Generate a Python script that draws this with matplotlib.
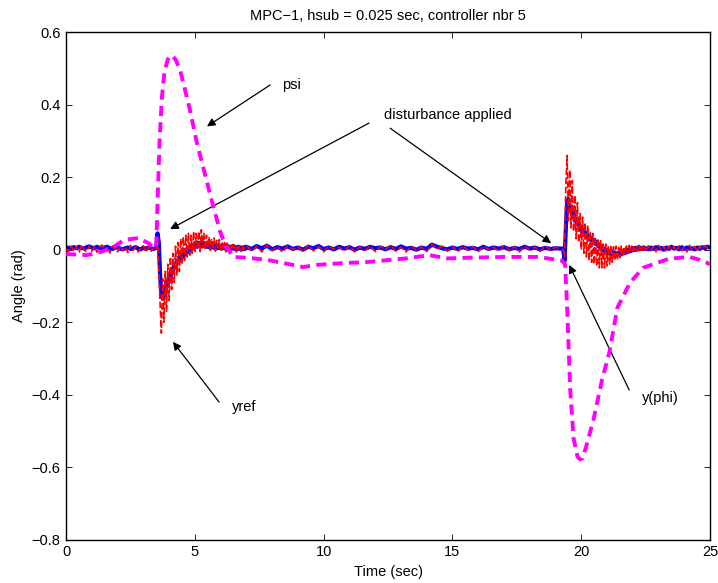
import numpy as np
import matplotlib
matplotlib.use("Agg")
import matplotlib.pyplot as plt

plt.rcParams['font.family'] = ['Liberation Sans', 'DejaVu Sans']
plt.rcParams['font.size'] = 10.5

# psi (magenta dashed)
t_psi = [0.0, 0.8, 1.3, 1.8, 2.25, 2.8, 3.2, 3.42, 3.5, 3.56, 3.63, 3.72, 3.82, 3.95,
         4.08, 4.25, 4.43, 4.81, 5.08, 5.35, 5.6, 5.98, 6.2, 6.5, 7.14, 7.8, 8.8, 9.2,
         9.73, 10.75, 11.7, 13.2, 14.1, 14.8, 15.7, 17.0, 18.3, 18.7, 19.25, 19.37,
         19.45, 19.57, 19.7, 19.85, 19.95, 20.05, 20.2, 20.47, 20.8, 21.1, 21.4, 21.9,
         22.4, 23.4, 24.2, 24.6, 25.0]
psi = [-0.012, -0.015, -0.007, 0.005, 0.027, 0.032, 0.018, 0.005, 0.005, 0.15, 0.3,
       0.42, 0.49, 0.525, 0.536, 0.525, 0.495, 0.385, 0.294, 0.22, 0.15, 0.05, 0.01,
       -0.02, -0.023, -0.028, -0.042, -0.048, -0.042, -0.037, -0.034, -0.024, -0.015,
       -0.024, -0.022, -0.02, -0.02, -0.024, -0.03, -0.04, -0.158, -0.387, -0.52,
       -0.57, -0.578, -0.575, -0.54, -0.47, -0.36, -0.28, -0.16, -0.09, -0.05, -0.025,
       -0.02, -0.028, -0.04]

# y(phi) (blue) and yref (red), in five time segments
y_a = [0.004, 0.006, 0.003, 0.007, 0.004, 0.008, 0.005, 0.003, 0.007, 0.009,
       0.006, 0.004, 0.008, 0.005, 0.003, 0.006, 0.008, 0.004, 0.002, 0.005,
       0.007, 0.003, 0.001, 0.004, 0.006, 0.002, 0.004, 0.007, 0.003, 0.001,
       0.005, 0.003, 0.006, 0.004, 0.002]
yref_a = [0.002, -0.006, 0.010, -0.004, 0.008, -0.008, 0.012, 0.000, -0.006, 0.011,
          -0.004, 0.009, -0.007, 0.006, 0.013, -0.005, 0.008, -0.009, 0.010, 0.002,
          -0.006, 0.011, -0.003, 0.007, -0.008, 0.012, -0.002, 0.009, -0.006, 0.004,
          0.011, -0.007, 0.008, -0.004, 0.006]

y_b = [0.005, 0.045, 0.02, -0.07, -0.12, -0.135, -0.11, -0.125, -0.09, -0.1,
       -0.07, -0.08, -0.055, -0.06, -0.04, -0.048, -0.03, -0.035, -0.02, -0.028,
       -0.012, -0.02, -0.005, -0.012, 0.002, -0.006, 0.008, 0.0, 0.012, 0.004,
       0.016, 0.008, 0.02, 0.01, 0.018, 0.009, 0.02, 0.011, 0.017, 0.008,
       0.016, 0.007, 0.014, 0.006, 0.015, 0.005, 0.013, 0.004, 0.012, 0.005,
       0.011, 0.003, 0.010, 0.004, 0.012, 0.003, 0.009, 0.002, 0.008, 0.003,
       0.010, 0.002, 0.007, 0.001, 0.008, 0.003, 0.006, 0.001, 0.007, 0.002]
yref_b = [0.0, 0.03, -0.05, -0.15, -0.23, -0.08, -0.2, -0.06, -0.17, -0.04,
          -0.14, -0.02, -0.11, -0.01, -0.09, 0.01, -0.07, 0.02, -0.06, 0.03,
          -0.04, 0.035, -0.03, 0.04, -0.02, 0.045, -0.015, 0.04, -0.01, 0.05,
          -0.005, 0.045, 0.0, 0.05, -0.005, 0.055, 0.005, 0.045, 0.0, 0.04,
          0.005, 0.035, -0.002, 0.03, 0.002, 0.032, -0.004, 0.026, 0.004, 0.028,
          -0.005, 0.022, 0.0, 0.02, -0.006, 0.018, 0.002, 0.016, -0.004, 0.014,
          0.0, 0.012, -0.006, 0.013, 0.002, 0.010, -0.005, 0.011, 0.0, 0.009]

y_c = [0.008, 0.002, 0.010, 0.004, 0.011, 0.001, 0.007, 0.003, 0.009, 0.002,
       0.006, 0.000, 0.008, 0.004, 0.010, 0.002, 0.006, 0.001, 0.008, 0.003,
       0.007, 0.000, 0.006, 0.002, 0.008, 0.004, 0.006, 0.001, 0.007, 0.002,
       0.009, 0.003, 0.005, 0.000, 0.006, 0.002, 0.014, 0.008, 0.004, 0.001,
       0.006, 0.002, 0.007, 0.003, 0.005, 0.001, 0.008, 0.002, 0.006, 0.003,
       0.007, 0.001, 0.005, 0.002, 0.008, 0.003, 0.006, 0.001, 0.005, 0.002,
       0.004, 0.003]
yref_c = [0.012, -0.004, 0.010, -0.006, 0.013, -0.002, 0.009, -0.007, 0.011, 0.000,
          0.008, -0.005, 0.012, -0.003, 0.009, -0.006, 0.010, 0.001, 0.007, -0.004,
          0.011, -0.006, 0.008, -0.002, 0.010, -0.005, 0.009, 0.000, 0.012, -0.004,
          0.007, -0.006, 0.010, -0.002, 0.008, -0.005, 0.016, 0.002, 0.010, -0.004,
          0.009, -0.006, 0.011, -0.002, 0.008, -0.005, 0.010, 0.000, 0.007, -0.004,
          0.012, -0.003, 0.009, -0.006, 0.010, -0.001, 0.008, -0.005, 0.011, -0.002,
          0.007, 0.001]

y_d = [0.003, -0.03, 0.06, 0.13, 0.14, 0.11, 0.12, 0.095, 0.1, 0.08,
       0.085, 0.07, 0.072, 0.06, 0.062, 0.05, 0.052, 0.042, 0.045, 0.035,
       0.038, 0.028, 0.032, 0.022, 0.026, 0.016, 0.02, 0.01, 0.014, 0.004,
       0.008, -0.002, 0.003, -0.006, -0.001, -0.01, -0.004, -0.013, -0.006, -0.015,
       -0.008, -0.016, -0.009, -0.014, -0.006, -0.013, -0.004, -0.01, -0.002, -0.008,
       0.0, -0.005, 0.002, -0.003, 0.004, -0.001, 0.005, 0.0, 0.006, 0.001,
       0.005, 0.002, 0.006, 0.002]
yref_d = [0.0, -0.02, 0.18, 0.26, 0.08, 0.22, 0.06, 0.19, 0.05, 0.15,
          0.03, 0.13, 0.02, 0.1, 0.0, 0.09, -0.01, 0.075, -0.02, 0.065,
          -0.03, 0.05, -0.035, 0.045, -0.04, 0.035, -0.045, 0.03, -0.05, 0.025,
          -0.05, 0.02, -0.05, 0.015, -0.045, 0.01, -0.04, 0.012, -0.035, 0.008,
          -0.03, 0.01, -0.028, 0.006, -0.022, 0.01, -0.018, 0.008, -0.012, 0.01,
          -0.01, 0.012, -0.006, 0.01, -0.004, 0.011, -0.005, 0.009, -0.003, 0.012,
          -0.004, 0.008, -0.002, 0.01]

y_e = [0.004, 0.001, 0.006, 0.002, 0.007, 0.003, 0.005, 0.000, 0.006, 0.002,
       0.008, 0.003, 0.005, 0.001, 0.007, 0.002, 0.006, 0.003, 0.004, 0.001,
       0.006, 0.002, 0.007, 0.004, 0.008, 0.006]
yref_e = [-0.005, 0.011, -0.003, 0.009, -0.006, 0.012, -0.002, 0.008, -0.004, 0.010,
          0.000, 0.009, -0.005, 0.011, -0.003, 0.008, -0.006, 0.012, -0.001, 0.009,
          -0.004, 0.010, 0.002, 0.011, 0.004, 0.012]

t = np.concatenate([
    np.linspace(0.0, 3.4, len(y_a)),
    np.linspace(3.5, 6.95, len(y_b)),
    np.linspace(7.0, 19.2, len(y_c)),
    np.linspace(19.3, 22.45, len(y_d)),
    np.linspace(22.5, 25.0, len(y_e)),
])
y = np.concatenate([y_a, y_b, y_c, y_d, y_e])
yref = np.concatenate([yref_a, yref_b, yref_c, yref_d, yref_e])

yticks = [-0.8, -0.6, -0.4, -0.2, 0, 0.2, 0.4, 0.6]
ytick_labels = ['\u22120.8', '\u22120.6', '\u22120.4', '\u22120.2', '0', '0.2', '0.4', '0.6']
xticks = [0, 5, 10, 15, 20, 25]

fig = plt.figure(figsize=(7.18, 5.83), dpi=100)
ax = fig.add_axes([0.092, 0.074, 0.897, 0.871])

ax.plot(t, y, color='blue', lw=3.0, zorder=2)
ax.plot(t, yref, color='red', lw=1.2, dashes=(4, 1.5), zorder=3)
ax.plot(t_psi, psi, color='magenta', lw=2.8, dashes=(2.6, 1.6), zorder=4)

ax.set_xlim(0, 25)
ax.set_ylim(-0.8, 0.6)
ax.set_xticks(xticks)
ax.set_yticks(yticks)
ax.set_yticklabels(ytick_labels)
ax.tick_params(direction='in', top=True, right=True, length=4, width=0.6, pad=4)
for s in ax.spines.values():
    s.set_linewidth(1.0)

ax.set_title('MPC\u22121, hsub = 0.025 sec, controller nbr 5', fontsize=10.5, pad=9)
ax.set_xlabel('Time (sec)', labelpad=4)
ax.set_ylabel('Angle (rad)', labelpad=4)

arrow = dict(arrowstyle='-|>', color='black', lw=0.9, mutation_scale=12, shrinkA=0, shrinkB=0)
ax.annotate('', xy=(5.47, 0.34), xytext=(7.92, 0.454), arrowprops=arrow)
ax.text(8.4, 0.454, 'psi', va='center', ha='left')
ax.annotate('', xy=(4.04, 0.057), xytext=(11.76, 0.349), arrowprops=arrow)
ax.annotate('', xy=(18.83, 0.018), xytext=(12.58, 0.335), arrowprops=arrow)
ax.text(12.34, 0.371, 'disturbance applied', va='center', ha='left')
ax.annotate('', xy=(4.15, -0.254), xytext=(5.94, -0.42), arrowprops=arrow)
ax.text(6.44, -0.434, 'yref', va='center', ha='left')
ax.annotate('', xy=(19.53, -0.042), xytext=(21.86, -0.387), arrowprops=arrow)
ax.text(22.36, -0.41, 'y(phi)', va='center', ha='left')

fig.savefig('out.png', dpi=100)
